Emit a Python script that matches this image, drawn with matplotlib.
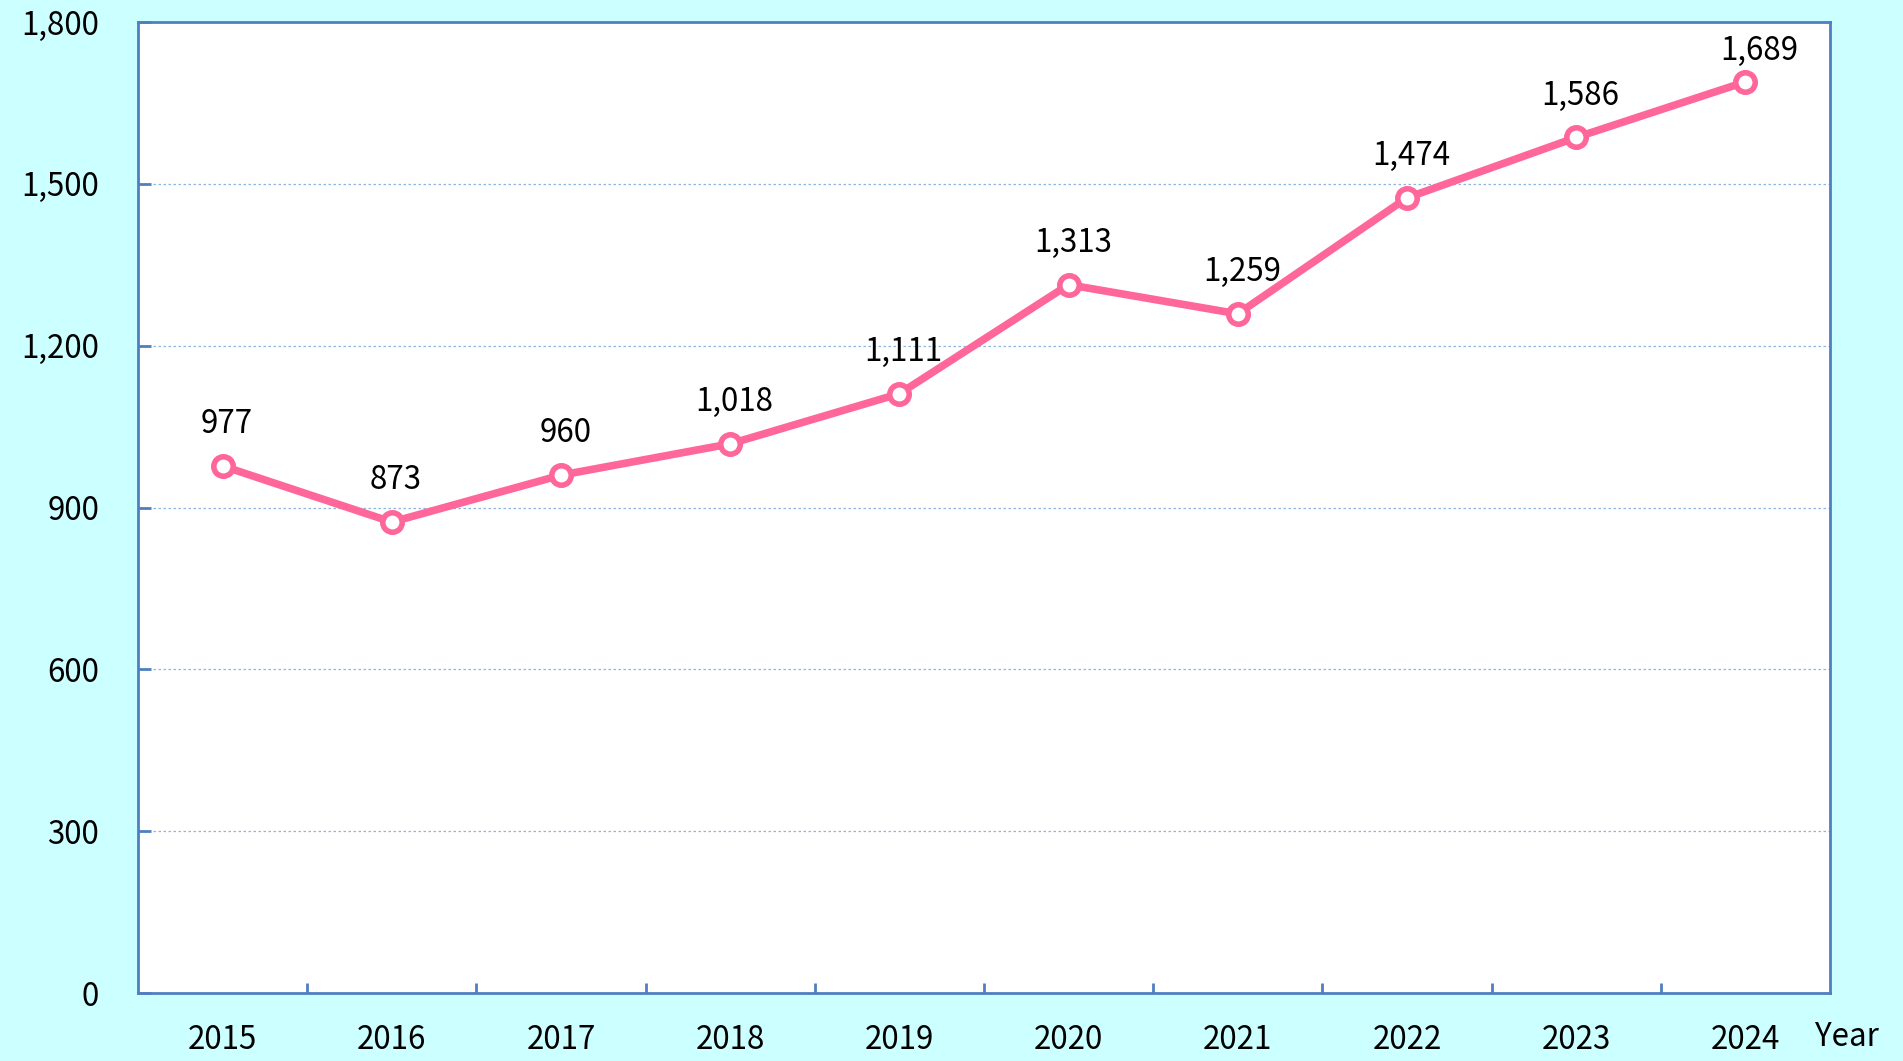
import matplotlib.pyplot as plt
from matplotlib.ticker import FuncFormatter, FixedLocator

plt.rcParams['font.family'] = ['Noto Sans CJK TC', 'DejaVu Sans']

# data
years = ['2015', '2016', '2017', '2018', '2019', '2020', '2021', '2022', '2023', '2024']
values = [977, 873, 960, 1018, 1111, 1313, 1259, 1474, 1586, 1689]
y_ticks = [0, 300, 600, 900, 1200, 1500, 1800]

bg = '#CCFFFF'
line_col = '#FF6699'
spine_col = '#4F7FC0'

fig = plt.figure(figsize=(19.03, 10.61), dpi=100, facecolor=bg)
ax = fig.add_axes([138 / 1903, 1 - 993 / 1061, (1830 - 138) / 1903, (993 - 22) / 1061])
ax.set_facecolor('white')

x = list(range(len(years)))
ax.plot(x, values, color=line_col, lw=5.5, marker='o', ms=14, mfc='white',
        mec=line_col, mew=4, zorder=3, solid_joinstyle='miter')

for i, v in enumerate(values):
    last = i == len(values) - 1
    ax.annotate(f'{v:,}', (i, v), xytext=(10 if last else 3, 22 if last else 30),
                textcoords='offset points', ha='center', va='center', fontsize=22.5)

ax.set_xlim(-0.5, len(years) - 0.5)
ax.set_ylim(0, 1800)
ax.set_yticks(y_ticks)
ax.yaxis.set_major_formatter(FuncFormatter(lambda v, p: f'{int(v):,}'))
ax.grid(axis='y', color='#8DB4E2', ls=(0, (2, 2)), lw=0.9)
ax.set_axisbelow(True)

ax.set_xticks(x)
ax.set_xticklabels(years)
ax.xaxis.set_minor_locator(FixedLocator([i + 0.5 for i in x[:-1]]))
ax.tick_params(axis='x', which='major', length=0, pad=22, labelsize=22.5)
ax.tick_params(axis='x', which='minor', direction='in', length=7, width=2, color=spine_col)
ax.tick_params(axis='y', direction='in', length=9, width=2, color=spine_col, pad=28, labelsize=22.5)

for s in ax.spines.values():
    s.set_color(spine_col)
    s.set_linewidth(2)

fig.text(1815 / 1903, 1 - 1037 / 1061, 'Year', fontsize=22.5, ha='left', va='center')

fig.savefig('out.png', dpi=100, facecolor=bg)
